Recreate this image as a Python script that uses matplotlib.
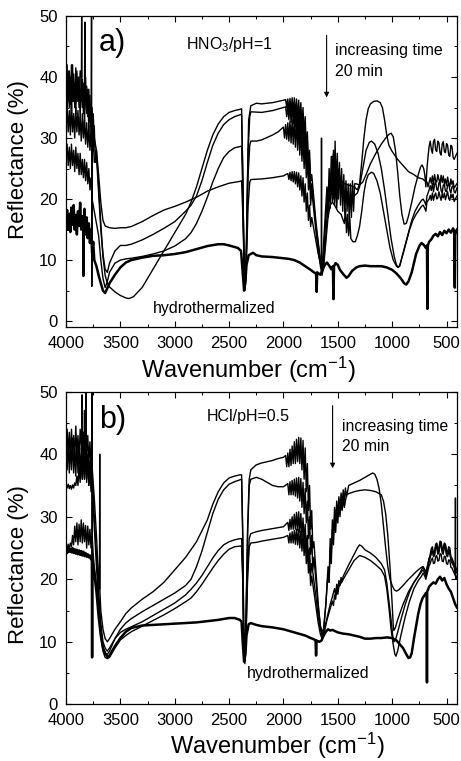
import numpy as np
import matplotlib
matplotlib.use("Agg")
import matplotlib.pyplot as plt
from matplotlib.ticker import MultipleLocator

# =========================
# Data (wavenumber cm-1, reflectance %)
# =========================

# ---- (a) HNO3 / pH=1 ----
a_hydro = [
    (4000, 16.5), (3990, 18.2), (3980, 15), (3970, 17.6), (3960, 14.6), (3950, 18.6), (3940, 15.8),
    (3930, 19), (3920, 15), (3910, 17.4), (3900, 14.2), (3890, 18), (3880, 15.6), (3870, 19.4),
    (3860, 15), (3850, 17.2), (3842, 16), (3840, 7.4), (3838, 16), (3830, 18.4), (3820, 14.2),
    (3810, 17), (3800, 13.6), (3790, 16), (3780, 12.8), (3770, 15), (3760, 11.2), (3750, 13),
    (3740, 10), (3720, 9), (3700, 7.5), (3680, 6.2), (3660, 5), (3640, 4.6), (3620, 5.4),
    (3600, 6.2), (3550, 7.6), (3500, 8.8), (3450, 9.6), (3400, 10), (3300, 10.4), (3200, 10.7),
    (3100, 10.8), (3000, 11), (2900, 11.3), (2800, 11.8), (2700, 12.3), (2600, 12.6), (2550, 12.6),
    (2500, 12.4), (2420, 12), (2390, 11.5), (2375, 8), (2362, 5), (2350, 6.5), (2340, 9.2),
    (2320, 10.8), (2300, 11), (2280, 11.2), (2250, 10.8), (2200, 10.6), (2100, 10.5), (2000, 10.3),
    (1950, 10.2), (1900, 10), (1850, 9.6), (1800, 9), (1750, 8.4), (1720, 8), (1700, 7.8),
    (1695, 4.8), (1690, 8), (1660, 7.6), (1640, 8.4), (1620, 9.2), (1600, 9.6), (1580, 9.1),
    (1560, 8.5), (1545, 9), (1540, 3.6), (1535, 9), (1520, 9.5), (1500, 9.2), (1480, 8.4),
    (1450, 7.7), (1420, 7.1), (1400, 7.4), (1370, 8.2), (1330, 8.8), (1300, 9), (1250, 9.1),
    (1200, 9), (1150, 9), (1100, 9), (1050, 8.8), (1000, 8.4), (960, 7.8), (920, 7), (890, 6.2),
    (870, 6), (850, 6.5), (820, 8), (800, 9.5), (780, 11), (750, 12.3), (730, 12.8), (710, 12.5),
    (690, 12), (680, 12.4), (676, 2), (672, 12.4), (660, 13), (640, 13.4), (620, 14), (600, 14.3),
    (580, 13.9), (560, 14.6), (540, 14.1), (520, 14.8), (500, 14.4), (480, 15), (460, 14.5),
    (440, 15.2), (430, 14.8), (424, 5.5), (420, 14.2), (405, 15),
]

a_t1 = [
    (4000, 38), (3990, 34), (3980, 41), (3970, 35), (3960, 40), (3950, 33), (3940, 42), (3930, 36),
    (3920, 39), (3910, 34), (3900, 41), (3890, 36), (3880, 40), (3870, 33), (3860, 41), (3850, 35),
    (3840, 39), (3830, 32), (3820, 40), (3810, 34), (3800, 38), (3790, 31), (3780, 37), (3770, 30),
    (3760, 35), (3750, 28), (3740, 32), (3730, 26), (3720, 28), (3700, 22), (3680, 16),
    (3660, 10.5), (3640, 7.5), (3620, 6.2), (3600, 5.6), (3550, 4.8), (3500, 4.2), (3450, 3.8),
    (3420, 3.7), (3380, 4), (3300, 5.5), (3200, 8.5), (3100, 11.5), (3000, 14.5), (2900, 17.5),
    (2850, 19.5), (2800, 22), (2750, 25), (2700, 28), (2650, 30.5), (2600, 32.3), (2550, 33.5),
    (2500, 34.2), (2450, 34.5), (2400, 34.7), (2385, 34.8), (2375, 25), (2365, 12), (2355, 5),
    (2345, 8), (2335, 20), (2320, 33), (2300, 35.3), (2250, 35.7), (2200, 35.6), (2100, 35.8),
    (2000, 36.2), (1980, 36.3), (1970, 35), (1960, 36.4), (1950, 34.6), (1940, 36.5), (1930, 34.4),
    (1920, 36.6), (1910, 34), (1900, 36.6), (1890, 33.5), (1880, 36.4), (1870, 33), (1860, 36.2),
    (1850, 32.5), (1840, 35.8), (1830, 31.5), (1820, 35), (1810, 30), (1800, 33.5), (1790, 28),
    (1780, 31), (1770, 25.5), (1760, 28), (1750, 23), (1740, 24), (1720, 20), (1700, 16),
    (1680, 13), (1660, 10), (1650, 9), (1640, 10), (1620, 16), (1600, 22), (1590, 19), (1580, 25),
    (1570, 21), (1560, 27), (1550, 23), (1540, 27.5), (1530, 22.5), (1520, 26.5), (1510, 22),
    (1500, 25), (1480, 23.5), (1460, 22.8), (1440, 22.5), (1400, 22.3), (1350, 22), (1320, 21.5),
    (1300, 22.5), (1280, 26), (1260, 30), (1240, 33), (1220, 34.8), (1200, 35.6), (1170, 36),
    (1140, 36.1), (1110, 35.8), (1090, 35), (1070, 33), (1050, 30.5), (1030, 28.8), (1000, 27.8),
    (950, 26.5), (900, 25.5), (850, 24.5), (800, 24), (760, 23.5), (720, 23.3), (700, 23),
    (680, 22.8), (670, 22), (650, 23.5), (640, 22.6), (630, 23.8), (620, 22.4), (610, 24),
    (600, 23), (590, 22.8), (580, 24), (570, 23.2), (560, 22.6), (550, 23.9), (540, 22.7),
    (530, 23.8), (520, 22.5), (510, 23.3), (500, 22.2), (490, 23.6), (480, 22.6), (470, 22),
    (460, 23.3), (450, 22.4), (440, 23), (430, 21.8), (405, 22.5),
]

a_t2 = [
    (4000, 33), (3990, 35), (3980, 31), (3970, 34.5), (3960, 30.5), (3950, 35.5), (3940, 31),
    (3930, 34), (3920, 30), (3910, 35), (3900, 31), (3890, 34.5), (3880, 30.5), (3870, 33.5),
    (3860, 29.5), (3850, 34), (3840, 30), (3830, 33), (3820, 29), (3810, 32.5), (3800, 28.5),
    (3790, 32), (3780, 28), (3770, 31), (3760, 27), (3750, 30), (3740, 26), (3720, 27), (3700, 21),
    (3680, 15), (3660, 11), (3640, 8.5), (3620, 8), (3600, 9.5), (3550, 11.5), (3500, 12.4),
    (3450, 12.4), (3400, 12.6), (3300, 13.3), (3200, 14.2), (3100, 15.2), (3000, 16.3), (2900, 18),
    (2850, 19), (2800, 20.5), (2750, 23), (2700, 26), (2650, 28.8), (2600, 30.8), (2550, 32.2),
    (2500, 33), (2450, 33.5), (2400, 33.8), (2385, 33.9), (2375, 25), (2362, 8), (2350, 6),
    (2340, 12), (2325, 28), (2310, 33.5), (2300, 34.3), (2200, 34.2), (2100, 34.5), (2000, 35),
    (1980, 35.1), (1970, 33.5), (1960, 35.3), (1950, 33), (1940, 35.4), (1930, 32.6), (1920, 35.5),
    (1910, 32.3), (1900, 35.5), (1890, 31.8), (1880, 35.4), (1870, 31.2), (1860, 35.2), (1850, 30.5),
    (1840, 34.7), (1830, 29.5), (1820, 34), (1810, 28.2), (1800, 32.3), (1790, 26.5), (1780, 29.5),
    (1770, 24), (1760, 26.5), (1750, 21.5), (1740, 22.5), (1720, 19), (1700, 15.5), (1680, 12.5),
    (1660, 9.5), (1652, 9), (1650, 30), (1648, 8), (1635, 9.5), (1620, 14), (1600, 20), (1590, 17),
    (1580, 23), (1570, 18.5), (1560, 24), (1550, 19.5), (1540, 24.2), (1530, 19), (1520, 23.5),
    (1510, 18.5), (1500, 22.5), (1480, 22), (1440, 20.5), (1400, 20), (1350, 20.5), (1320, 21),
    (1300, 22), (1270, 25), (1240, 28), (1210, 29.3), (1190, 29.5), (1160, 29), (1130, 27.5),
    (1100, 25), (1070, 21.5), (1040, 17.5), (1010, 13.5), (980, 10.5), (960, 9.2), (945, 8.8),
    (930, 9), (910, 10.5), (880, 12.5), (850, 14.5), (820, 16.5), (790, 18), (760, 19), (730, 19.8),
    (715, 20), (700, 19.5), (690, 19), (680, 20.5), (660, 21.5), (650, 22.2), (640, 21.4),
    (630, 22.6), (620, 21.2), (610, 22.4), (600, 22.8), (590, 21.6), (580, 21.4), (570, 22.7),
    (560, 22.6), (550, 21.4), (540, 21), (530, 22.3), (520, 22.4), (510, 21.3), (500, 21.2),
    (490, 22.2), (480, 22.6), (470, 21.5), (460, 21), (450, 22), (440, 22.2), (430, 21.2),
    (420, 21), (405, 21.8),
]

a_t3 = [
    (4000, 27), (3990, 29), (3980, 25.5), (3970, 28.5), (3960, 25), (3950, 29), (3940, 25.5),
    (3930, 28), (3920, 24.5), (3910, 28.5), (3900, 25), (3890, 27.5), (3880, 24), (3870, 27.5),
    (3860, 24), (3850, 26.5), (3840, 23.5), (3830, 26.5), (3820, 23), (3810, 26), (3800, 22.5),
    (3790, 25), (3780, 21.5), (3770, 23.5), (3760, 20), (3740, 18), (3720, 16), (3700, 14),
    (3680, 10), (3660, 7), (3640, 5.5), (3620, 6.5), (3600, 8), (3550, 9.5), (3500, 10),
    (3450, 10.2), (3400, 10.3), (3300, 10.6), (3200, 11), (3100, 11.5), (3000, 12.3), (2900, 13.5),
    (2850, 14.5), (2800, 16), (2750, 18), (2700, 20.3), (2650, 22.8), (2600, 25), (2550, 26.8),
    (2500, 27.8), (2450, 28.4), (2400, 28.6), (2385, 28.7), (2375, 22), (2360, 9), (2350, 7),
    (2340, 12), (2325, 24), (2310, 28.8), (2300, 29.5), (2250, 29.5), (2200, 29.7), (2100, 30.5),
    (2050, 31), (2000, 31.8), (1990, 30), (1980, 32.2), (1970, 29.8), (1960, 32.5), (1950, 29.5),
    (1940, 32.8), (1930, 29.2), (1920, 33), (1910, 29), (1900, 33), (1890, 28.5), (1880, 32.8),
    (1870, 28), (1860, 32.4), (1850, 27.2), (1840, 31.8), (1830, 26.2), (1820, 30.5), (1810, 25),
    (1800, 29), (1790, 23.5), (1780, 27), (1770, 21.5), (1760, 24.5), (1750, 19), (1740, 21.5),
    (1720, 18), (1700, 14.5), (1680, 11.5), (1660, 9), (1645, 7.5), (1630, 9), (1610, 13),
    (1590, 17), (1570, 19), (1550, 19.5), (1530, 19), (1500, 18), (1470, 17.5), (1440, 16),
    (1430, 18.5), (1420, 14.5), (1410, 17.5), (1400, 14), (1390, 17), (1380, 13.5), (1360, 13),
    (1340, 13), (1320, 14), (1300, 15.5), (1280, 18), (1260, 21), (1240, 23), (1220, 24),
    (1190, 24.4), (1170, 24.2), (1140, 23), (1110, 21), (1080, 18), (1050, 15), (1020, 12),
    (990, 10), (960, 9), (945, 8.8), (930, 9.2), (900, 11), (870, 13), (840, 15), (810, 16.5),
    (780, 17.5), (750, 18.3), (730, 18.8), (715, 19), (700, 18.5), (690, 18), (680, 19.5),
    (660, 20), (650, 20.6), (640, 19.8), (630, 21), (620, 19.8), (610, 20.6), (600, 21),
    (590, 20), (580, 20.2), (570, 21.2), (560, 20.4), (550, 19.8), (540, 20.9), (530, 20.2),
    (520, 21), (510, 19.9), (500, 20.6), (490, 21.2), (480, 20.1), (470, 19.8), (460, 20.8),
    (450, 20.2), (440, 20.8), (430, 19.6), (405, 20.5),
]

a_t4 = [
    (4000, 39), (3990, 42), (3980, 36), (3970, 41), (3960, 35.5), (3950, 42), (3940, 36),
    (3930, 40.5), (3920, 35), (3910, 41.5), (3900, 36), (3890, 40), (3880, 35), (3870, 41),
    (3858, 40), (3856, 52), (3854, 36), (3850, 39.5), (3840, 34), (3830, 39), (3826, 49),
    (3822, 36), (3810, 38.5), (3800, 33.5), (3790, 38), (3780, 33), (3768, 36), (3765, 55),
    (3763, 5.7), (3761, 33), (3750, 34), (3740, 30), (3720, 28), (3700, 24), (3680, 19.5),
    (3660, 16.5), (3640, 15.6), (3600, 15.3), (3550, 15.2), (3500, 15.3), (3450, 15.3),
    (3400, 15.5), (3300, 16.3), (3200, 17.3), (3100, 18.2), (3000, 18.8), (2900, 19.5),
    (2800, 20.3), (2700, 21.3), (2600, 22), (2500, 22.6), (2400, 22.9), (2385, 23), (2375, 18),
    (2360, 8), (2350, 6), (2340, 10), (2325, 19), (2310, 22.8), (2300, 23.2), (2200, 23.3),
    (2100, 23.5), (2000, 23.8), (1960, 24.2), (1950, 23.2), (1940, 24.4), (1930, 23), (1920, 24.5),
    (1910, 22.8), (1900, 24.5), (1890, 22.5), (1880, 24.4), (1870, 22), (1860, 24.3), (1850, 21.5),
    (1840, 23.8), (1830, 20.5), (1820, 23.5), (1810, 19.5), (1800, 22.5), (1790, 18), (1780, 21),
    (1770, 16.5), (1760, 19), (1750, 15.5), (1740, 17), (1720, 15), (1700, 13), (1680, 11),
    (1660, 9.5), (1645, 8.5), (1630, 9.5), (1610, 14), (1590, 20), (1570, 24), (1560, 22),
    (1550, 27), (1545, 20), (1540, 28), (1530, 22), (1525, 29.5), (1515, 21), (1505, 27.5),
    (1495, 20), (1485, 26), (1475, 19), (1465, 25), (1455, 18), (1445, 24), (1435, 17.5),
    (1425, 23), (1415, 18), (1405, 22.5), (1395, 16.5), (1385, 22.5), (1375, 17), (1365, 23),
    (1355, 18), (1345, 22.5), (1330, 22.5), (1300, 22.3), (1270, 22.8), (1240, 24), (1200, 25.8),
    (1150, 27.5), (1100, 29), (1060, 30), (1030, 30.6), (1010, 30.8), (990, 30.2), (970, 28),
    (950, 24.5), (930, 20.5), (910, 17.5), (890, 15.9), (870, 16), (850, 17.2), (820, 19.5),
    (790, 22), (760, 24), (740, 25.2), (725, 25.6), (710, 25), (700, 24), (690, 22), (680, 25),
    (670, 27), (660, 28.6), (650, 29.5), (640, 28.2), (630, 27.5), (620, 29.4), (610, 29.8),
    (600, 28), (590, 27.8), (580, 29.5), (570, 29.2), (560, 27.6), (550, 27.2), (540, 29),
    (530, 29.4), (520, 27.8), (510, 27.6), (500, 29.1), (490, 28.8), (480, 27.2), (470, 27),
    (460, 28.8), (450, 28.6), (440, 26.9), (430, 26.5), (405, 27.5),
]

# ---- (b) HCl / pH=0.5 ----
b_hydro = [
    (4000, 24.8), (3990, 24.2), (3980, 25), (3970, 24.4), (3960, 24.9), (3950, 24.3), (3940, 25),
    (3930, 24.2), (3920, 24.8), (3910, 24.1), (3900, 24.7), (3890, 24), (3880, 24.6), (3870, 23.9),
    (3860, 24.5), (3850, 23.8), (3840, 24.4), (3830, 23.7), (3820, 24.2), (3810, 23.6), (3800, 24),
    (3790, 23.5), (3780, 23.8), (3770, 23.2), (3762, 23.5), (3760, 7.5), (3758, 23), (3740, 21),
    (3720, 18), (3700, 14), (3680, 11), (3660, 9), (3640, 8.2), (3620, 7.6), (3600, 7.8),
    (3580, 8.4), (3550, 9.3), (3500, 10.6), (3450, 11.6), (3400, 12.2), (3300, 12.6), (3200, 12.7),
    (3100, 12.8), (3000, 12.9), (2900, 13), (2800, 13.1), (2700, 13.3), (2600, 13.5), (2500, 13.8),
    (2450, 13.8), (2400, 13.5), (2385, 13.2), (2375, 10), (2362, 6.8), (2350, 8), (2340, 11),
    (2320, 12.8), (2300, 13), (2250, 12.7), (2200, 12.5), (2100, 12.3), (2000, 12), (1900, 11.5),
    (1800, 11), (1750, 10.6), (1720, 10.4), (1705, 10.2), (1700, 7.8), (1695, 10.2), (1670, 10),
    (1650, 10.2), (1630, 11), (1610, 11.6), (1590, 12), (1570, 11.8), (1550, 11.9), (1500, 11.5),
    (1450, 11.3), (1400, 11.2), (1350, 11), (1300, 10.8), (1250, 10.5), (1200, 10.5), (1150, 10.6),
    (1100, 10.6), (1050, 10.7), (1000, 10.6), (960, 10.2), (930, 9.6), (900, 9), (870, 8),
    (850, 7.4), (835, 7.5), (820, 8.2), (800, 10.5), (780, 12.5), (760, 14.5), (740, 16),
    (720, 17), (700, 17.5), (690, 17.8), (682, 17.6), (680, 3.5), (678, 18), (660, 18.8),
    (640, 19.2), (620, 19.5), (600, 19.3), (580, 20), (560, 20.4), (540, 19.8), (520, 20.2),
    (500, 19.2), (480, 18.5), (460, 18), (440, 17), (420, 16), (405, 15.5),
]

b_t1 = [
    (4000, 42), (3990, 44), (3980, 40), (3970, 43.5), (3960, 39.5), (3950, 44), (3940, 40),
    (3930, 43), (3920, 39.5), (3910, 44.5), (3900, 40), (3890, 43), (3880, 39), (3870, 44),
    (3854, 40), (3852, 49.5), (3850, 39), (3840, 43.5), (3832, 40), (3830, 47), (3828, 39),
    (3817, 42), (3815, 50), (3813, 39), (3800, 43), (3790, 38.5), (3780, 42), (3770, 38),
    (3760, 38), (3740, 33), (3720, 27), (3700, 20), (3692, 18.5), (3690, 40), (3688, 18),
    (3680, 15), (3660, 12), (3640, 10.5), (3620, 10), (3600, 10.5), (3550, 12), (3500, 13.2),
    (3450, 14.5), (3400, 15.4), (3300, 16.8), (3200, 18), (3100, 19.5), (3000, 21.5), (2900, 23.5),
    (2800, 26), (2700, 29.5), (2650, 32), (2600, 34), (2550, 35.4), (2500, 36.2), (2450, 36.5),
    (2400, 36.7), (2385, 36.7), (2375, 28), (2365, 12), (2355, 8), (2345, 14), (2330, 28),
    (2315, 36), (2300, 37.5), (2250, 38.3), (2200, 38.6), (2100, 39), (2050, 39.3), (2000, 39.5),
    (1980, 39.8), (1970, 38), (1960, 40.2), (1950, 38), (1940, 40.8), (1930, 38.2), (1920, 41.3),
    (1910, 38.5), (1900, 42), (1890, 38.5), (1880, 42.4), (1870, 38.8), (1860, 42.7), (1850, 38.5),
    (1840, 42.6), (1830, 37.5), (1820, 42.2), (1810, 36), (1800, 41), (1790, 34), (1780, 38.5),
    (1770, 31), (1760, 35), (1750, 28), (1740, 31), (1730, 25), (1720, 26), (1700, 21),
    (1680, 16), (1660, 12.5), (1645, 11.2), (1630, 12), (1610, 16), (1590, 22), (1580, 20),
    (1570, 26.5), (1560, 24), (1550, 29.5), (1540, 27), (1530, 31.5), (1520, 29), (1510, 32.5),
    (1500, 30), (1490, 33.2), (1480, 31), (1470, 33.8), (1460, 32), (1450, 34.3), (1440, 32.5),
    (1430, 34.6), (1420, 33.2), (1400, 35), (1350, 35.4), (1300, 35.8), (1250, 36.3), (1200, 36.8),
    (1180, 37), (1160, 36.8), (1140, 36), (1120, 34.5), (1100, 32), (1080, 28.5), (1060, 25),
    (1040, 22), (1020, 20), (1000, 19), (980, 18.3), (960, 18.1), (940, 18.3), (900, 19),
    (860, 19.8), (820, 20.5), (780, 21.2), (740, 21.8), (720, 22), (700, 21.5), (690, 21),
    (670, 22.5), (660, 23.4), (650, 23.5), (640, 24.2), (630, 24.6), (620, 23.6), (610, 23.8),
    (600, 25), (590, 25.2), (580, 24), (570, 24.2), (560, 25.4), (550, 25.5), (540, 24.2),
    (530, 24), (520, 25.2), (510, 25), (500, 23.8), (490, 23.6), (480, 24.4), (470, 24.2),
    (460, 23), (450, 22.6), (430, 22), (420, 21), (418, 33), (416, 20), (405, 20.5),
]

b_t2 = [
    (4000, 40), (3990, 37.5), (3980, 42), (3970, 37), (3960, 41.5), (3950, 37.5), (3940, 42.5),
    (3930, 37), (3920, 41), (3910, 36.5), (3900, 42), (3890, 37), (3880, 41.5), (3870, 36.5),
    (3860, 41), (3850, 36), (3840, 40.5), (3830, 36), (3820, 41), (3810, 35.5), (3800, 40),
    (3790, 35), (3780, 39), (3770, 34.5), (3762, 38), (3761, 50), (3759, 7.5), (3757, 36),
    (3740, 30), (3720, 24), (3700, 18), (3680, 13), (3660, 10), (3640, 9), (3620, 8.5), (3600, 9),
    (3550, 10.5), (3500, 12), (3450, 13), (3400, 13.7), (3300, 14.8), (3200, 15.8), (3100, 16.8),
    (3000, 17.8), (2900, 19), (2850, 20), (2800, 22), (2750, 24.5), (2700, 27.5), (2650, 30.5),
    (2600, 32.8), (2550, 34.3), (2500, 35.2), (2450, 35.6), (2400, 35.9), (2385, 36), (2375, 27),
    (2365, 11), (2355, 7.5), (2345, 13), (2330, 27), (2315, 35), (2300, 36), (2250, 36.3),
    (2200, 36), (2150, 35.5), (2100, 35), (2050, 34.8), (2000, 34.8), (1960, 35.3), (1950, 33.5),
    (1940, 35.6), (1930, 33.5), (1920, 35.8), (1910, 33.5), (1900, 36), (1890, 33.3), (1880, 36.2),
    (1870, 33), (1860, 36.3), (1850, 32.5), (1840, 36.1), (1830, 31.5), (1820, 35.5), (1810, 30.5),
    (1800, 34.5), (1790, 29), (1780, 32.5), (1770, 26.5), (1760, 30), (1750, 24), (1740, 27),
    (1730, 21.5), (1720, 23.5), (1700, 19.5), (1680, 15.5), (1660, 12.5), (1645, 11.5),
    (1630, 12.2), (1610, 16), (1590, 21), (1580, 19.5), (1570, 25), (1560, 22.5), (1550, 28),
    (1540, 25.5), (1530, 30), (1520, 27.5), (1510, 31), (1500, 29), (1490, 32), (1480, 30),
    (1470, 32.6), (1460, 31), (1450, 33), (1440, 31.5), (1420, 33.5), (1400, 33.7), (1350, 34),
    (1300, 34.2), (1250, 34.3), (1200, 34.2), (1150, 34), (1100, 33.5), (1080, 32.5), (1060, 30.5),
    (1040, 27), (1020, 22), (1000, 16), (990, 12.5), (985, 11.8), (970, 12.3), (950, 13.5),
    (900, 16), (850, 18), (800, 19.5), (760, 20.5), (730, 21.2), (715, 21.5), (700, 21), (690, 20.5),
    (670, 22), (660, 22.8), (650, 23.5), (640, 24.4), (630, 24.8), (620, 23.8), (610, 24),
    (600, 25.3), (590, 25.6), (580, 24.4), (570, 24.5), (560, 25.7), (550, 25.8), (540, 24.5),
    (530, 24.6), (520, 25.6), (510, 25.4), (500, 24.1), (490, 24), (480, 24.8), (470, 24.6),
    (460, 23.3), (450, 23), (430, 22), (405, 21),
]

b_t3 = [
    (4000, 35), (3990, 34.6), (3980, 35.2), (3970, 34.5), (3960, 35), (3950, 34.4), (3940, 35.1),
    (3930, 34.6), (3920, 35.4), (3910, 35), (3900, 36.5), (3890, 35), (3880, 38), (3870, 35.5),
    (3860, 39), (3850, 36), (3840, 40), (3830, 36), (3820, 40.5), (3810, 36), (3800, 40),
    (3790, 35), (3780, 39), (3770, 34), (3760, 36), (3745, 30), (3720, 22), (3700, 16),
    (3680, 11.5), (3660, 9), (3640, 8), (3620, 8), (3600, 8.5), (3550, 10.5), (3500, 11.5),
    (3450, 12), (3400, 12.4), (3300, 13.2), (3200, 14.2), (3100, 15.2), (3000, 16.2), (2900, 17.5),
    (2850, 18.4), (2800, 19.4), (2750, 20.6), (2700, 22), (2650, 23.4), (2600, 24.6), (2550, 25.5),
    (2500, 26), (2450, 26.3), (2400, 26.5), (2385, 26.5), (2375, 21), (2365, 10), (2355, 7),
    (2345, 11), (2330, 21), (2315, 26.5), (2300, 27.3), (2250, 27.6), (2200, 27.8), (2100, 28.1),
    (2000, 28.4), (1960, 29.1), (1950, 27.8), (1940, 29.6), (1930, 28), (1920, 30), (1910, 28),
    (1900, 30.4), (1890, 28), (1880, 30.7), (1870, 27.8), (1860, 30.8), (1850, 27.5), (1840, 30.5),
    (1830, 26.8), (1820, 29.8), (1810, 26), (1800, 28.8), (1790, 24.5), (1780, 27), (1770, 22.5),
    (1760, 25), (1750, 20.5), (1740, 22.5), (1720, 19.8), (1700, 17), (1680, 14), (1660, 12),
    (1645, 11), (1630, 11.5), (1610, 13), (1590, 14.5), (1570, 16), (1550, 17.2), (1530, 18.5),
    (1520, 17.5), (1510, 19.2), (1500, 18.2), (1490, 19.8), (1480, 19), (1470, 20.3), (1460, 19.6),
    (1450, 20.5), (1400, 22.3), (1350, 24), (1320, 25), (1300, 25.5), (1280, 25.3), (1250, 24.7),
    (1200, 24.2), (1150, 23.5), (1100, 22.5), (1070, 21.5), (1050, 19.5), (1030, 16.5),
    (1010, 13.5), (995, 11), (985, 10), (970, 10.3), (950, 11.5), (920, 13.5), (880, 16),
    (840, 18), (800, 19.5), (760, 20.5), (730, 21.5), (715, 22), (700, 21.5), (690, 21),
    (670, 22.5), (660, 23.3), (650, 24), (640, 24.9), (630, 25.2), (620, 24.2), (610, 24.4),
    (600, 25.6), (590, 25.8), (580, 24.8), (570, 25), (560, 26.1), (550, 26), (540, 24.9),
    (530, 25), (520, 25.8), (510, 25.6), (500, 24.5), (490, 24.4), (480, 25.2), (470, 25),
    (460, 23.6), (450, 23.4), (430, 22.5), (405, 21.5),
]

b_t4 = [
    (4000, 25.3), (3990, 24.8), (3980, 25.6), (3970, 25), (3960, 25.8), (3950, 25.2), (3940, 27),
    (3930, 25.5), (3920, 28.5), (3910, 26), (3900, 29), (3890, 25.5), (3880, 28.8), (3870, 26),
    (3860, 29.5), (3850, 25.8), (3840, 29), (3830, 26), (3820, 28.6), (3810, 25), (3800, 28.5),
    (3790, 25.5), (3780, 28), (3770, 25), (3760, 27), (3750, 24), (3740, 22), (3720, 19),
    (3700, 15), (3680, 11), (3660, 8.5), (3640, 7.5), (3620, 7.3), (3600, 7.5), (3550, 9),
    (3500, 10.3), (3450, 11), (3400, 11.6), (3300, 12.5), (3200, 13.4), (3100, 14.3), (3000, 15.3),
    (2900, 16.4), (2850, 17), (2800, 18), (2750, 19.2), (2700, 20.5), (2650, 21.8), (2600, 23),
    (2550, 24), (2500, 24.8), (2450, 25.2), (2400, 25.3), (2385, 25.3), (2375, 20), (2365, 9),
    (2355, 6.5), (2345, 10), (2330, 20), (2315, 25.2), (2300, 25.8), (2250, 25.9), (2200, 26.1),
    (2100, 26.4), (2000, 26.7), (1960, 27), (1950, 25.8), (1940, 27.4), (1930, 25.8), (1920, 27.6),
    (1910, 25.8), (1900, 27.8), (1890, 25.6), (1880, 28), (1870, 25.5), (1860, 28), (1850, 25),
    (1840, 27.7), (1830, 24.5), (1820, 27.2), (1810, 23.8), (1800, 26.5), (1790, 22.5), (1780, 25),
    (1770, 21), (1760, 23), (1750, 19), (1740, 20.5), (1720, 18), (1700, 15.5), (1680, 13),
    (1660, 11.2), (1645, 10.5), (1630, 11), (1600, 13.5), (1550, 16.5), (1540, 15.8), (1530, 17.5),
    (1520, 16.8), (1510, 18.3), (1500, 17.6), (1490, 18.8), (1450, 20), (1400, 21.5), (1350, 23),
    (1300, 23.8), (1250, 23.5), (1200, 23), (1150, 22.3), (1100, 21.5), (1070, 20.5), (1050, 18.5),
    (1030, 15.5), (1010, 12), (990, 9.5), (975, 8), (965, 7.7), (950, 8.5), (920, 11), (880, 14),
    (840, 16.5), (800, 18.5), (760, 19.8), (730, 20.5), (715, 21), (700, 20.5), (690, 20),
    (670, 21.5), (660, 22.2), (650, 22.5), (640, 23.1), (630, 23.4), (620, 22.5), (610, 22.6),
    (600, 23.6), (590, 23.8), (580, 22.9), (570, 23), (560, 24.1), (550, 24), (540, 22.9),
    (530, 22.8), (520, 23.7), (510, 23.6), (500, 22.5), (490, 22.4), (480, 23.1), (470, 23),
    (460, 21.9), (450, 21.8), (430, 21), (405, 20),
]

panel_a_curves = [a_t4, a_t3, a_t2, a_t1]
panel_b_curves = [b_t4, b_t3, b_t2, b_t1]

x_ticks = [4000, 3500, 3000, 2500, 2000, 1500, 1000, 500]
y_ticks = [0, 10, 20, 30, 40, 50]

# =========================
# Style
# =========================
plt.rcParams.update({
    "font.family": ["Liberation Sans", "DejaVu Sans"],
    "mathtext.fontset": "custom",
    "mathtext.rm": "Liberation Sans",
    "mathtext.it": "Liberation Sans:italic",
    "mathtext.bf": "Liberation Sans:bold",
    "axes.linewidth": 0.9,
    "xtick.direction": "in",
    "ytick.direction": "in",
    "xtick.top": True,
    "ytick.right": True,
    "xtick.major.size": 4,
    "ytick.major.size": 4,
    "xtick.minor.size": 2.2,
    "ytick.minor.size": 2.2,
    "xtick.major.width": 0.8,
    "ytick.major.width": 0.8,
    "xtick.minor.width": 0.7,
    "ytick.minor.width": 0.7,
    "xtick.labelsize": 12,
    "ytick.labelsize": 12,
})

fig = plt.figure(figsize=(4.61, 7.61), dpi=100)
ax_a = fig.add_axes([0.1432, 0.5700, 0.849, 0.4090])
ax_b = fig.add_axes([0.1432, 0.0745, 0.849, 0.4108])


def draw_panel(ax, curves, hydro, ylim, xlab_pos, ylab_pos):
    for c in curves:
        arr = np.array(c, dtype=float)
        ax.plot(arr[:, 0], arr[:, 1], color="black", lw=1.0)
    arr = np.array(hydro, dtype=float)
    ax.plot(arr[:, 0], arr[:, 1], color="black", lw=1.8)
    ax.set_xlim(4000, 400)
    ax.set_ylim(*ylim)
    ax.set_xticks(x_ticks)
    ax.set_yticks(y_ticks)
    ax.xaxis.set_minor_locator(MultipleLocator(250))
    ax.yaxis.set_minor_locator(MultipleLocator(5))
    ax.tick_params(axis="x", which="both", pad=6)
    ax.tick_params(axis="y", which="both", pad=6)
    ax.set_xlabel("Wavenumber (cm$^{-1}$)", fontsize=17)
    ax.set_ylabel("Reflectance (%)", fontsize=16)
    ax.xaxis.set_label_coords(*xlab_pos)
    ax.yaxis.set_label_coords(*ylab_pos)


draw_panel(ax_a, panel_a_curves, a_hydro, (-1, 50), (0.467, -0.088), (-0.095, 0.54))
draw_panel(ax_b, panel_b_curves, b_hydro, (0, 50), (0.540, -0.085), (-0.095, 0.447))

# annotations (a)
ax_a.text(3700, 45.5, "a)", fontsize=22, va="center", ha="left")
ax_a.text(2900, 45.3, "HNO$_3$/pH=1", fontsize=11.5, va="center", ha="left")
ax_a.text(1530, 44.3, "increasing time", fontsize=11.5, va="center", ha="left")
ax_a.text(1530, 40.9, "20 min", fontsize=11.5, va="center", ha="left")
ax_a.annotate("", xy=(1603, 36.2), xytext=(1603, 47.3),
              arrowprops=dict(arrowstyle="-|>", color="black", lw=0.8, mutation_scale=7))
ax_a.text(3200, 2.0, "hydrothermalized", fontsize=11.5, va="center", ha="left")

# annotations (b)
ax_b.text(3700, 45.5, "b)", fontsize=22, va="center", ha="left")
ax_b.text(2705, 46.0, "HCl/pH=0.5", fontsize=11.5, va="center", ha="left")
ax_b.text(1460, 44.5, "increasing time", fontsize=11.3, va="center", ha="left")
ax_b.text(1460, 41.3, "20 min", fontsize=11.3, va="center", ha="left")
ax_b.annotate("", xy=(1548, 37.3), xytext=(1548, 48.2),
              arrowprops=dict(arrowstyle="-|>", color="black", lw=0.8, mutation_scale=7))
ax_b.text(2340, 4.9, "hydrothermalized", fontsize=11.5, va="center", ha="left")

fig.savefig("out.png", dpi=100)
